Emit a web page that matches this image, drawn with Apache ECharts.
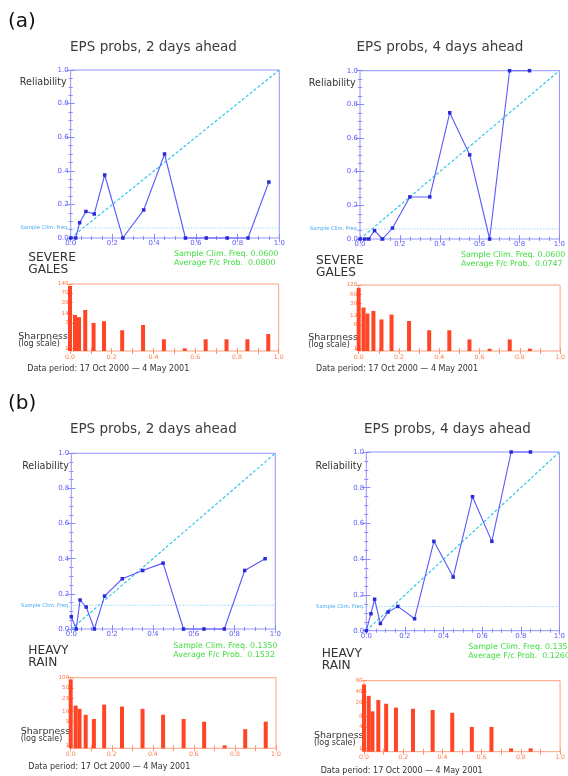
<!DOCTYPE html>
<html><head><meta charset="utf-8">
<script src="https://cdn.jsdelivr.net/npm/echarts@6/dist/echarts.min.js"></script>
<style>html,body{margin:0;padding:0;background:#fff;overflow:hidden}#c{width:568px;height:776px}</style>
</head><body><div id="c"></div>
<script>
// ---------- data ----------
const probBins = [0.0, 0.024, 0.043, 0.073, 0.113, 0.163, 0.25, 0.35, 0.45, 0.55, 0.65, 0.75, 0.85, 0.95];
const diagonal = [[0, 0], [1, 1]];

const galesDay2Reliability = [0, 0, 0.091, 0.158, 0.143, 0.375, 0, 0.167, 0.5, 0, 0, 0, 0, 0.333];
const galesDay2Counts      = [120, 13, 11, 19, 7, 8, 4, 6, 2, 1, 2, 2, 2, 3];
const galesDay4Reliability = [0, 0, 0, 0.05, 0, 0.065, 0.25, 0.25, 0.75, 0.5, 0, 1, 1];
const galesDay4Counts      = [97, 22, 14, 17, 9, 13, 8, 4, 4, 2, 1, 2, 1, 0];
const rainDay2Reliability  = [0.07, 0, 0.165, 0.125, 0, 0.1875, 0.286, 0.333, 0.375, 0, 0, 0, 0.333, 0.4];
const rainDay2Counts       = [89, 15, 12, 8, 6, 16, 14, 12, 8, 6, 5, 1, 3, 5];
const rainDay4Reliability  = [0, 0.095, 0.176, 0.04, 0.105, 0.136, 0.067, 0.5, 0.3, 0.75, 0.5, 1, 1];
const rainDay4Counts       = [63, 30, 11, 23, 18, 14, 13, 12, 10, 4, 4, 1, 1, 0];

const sharpTicksGalesDay2 = [1, 7, 14, 35, 70, 140];
const sharpTicksGalesDay4 = [1, 6, 12, 30, 60, 120];
const sharpTicksRainDay2  = [1, 5, 10, 25, 50, 100];
const sharpTicksRainDay4  = [1, 4, 8, 20, 40, 80];

const sampleClimFreq = ['0.0600', '0.0600', '0.1350', '0.1350'];
const averageFcProb  = ['0.0800', '0.0747', '0.1532', '0.1260'];
const panelTitles = ['EPS probs, 2 days ahead', 'EPS probs, 4 days ahead', 'EPS probs, 2 days ahead', 'EPS probs, 4 days ahead'];
const eventNames = [['SEVERE', 'GALES'], ['SEVERE', 'GALES'], ['HEAVY', 'RAIN'], ['HEAVY', 'RAIN']];
const dataPeriod = 'Data period: 17 Oct 2000 \u2014 4 May 2001';

// ---------- layout ----------
const panels = [
  { rel: {x0: 70.7, x1: 279.3, top: 70, bottom: 238},
    sh: {x0: 70, x1: 278.7, top: 284, bottom: 351, lo: 0.815, hi: 140},
    relY: galesDay2Reliability, counts: galesDay2Counts, ticks: sharpTicksGalesDay2,
    title: [153.5, 47], relLab: [66.7, 82.7], green: [174, 254.3], ev: [28.3, 258.3], shLab: [18.3, 336.7], dp: [27.3, 368.7] },
  { rel: {x0: 360, x1: 562.7, top: 70.7, bottom: 239},
    sh: {x0: 358.7, x1: 562.7, top: 285, bottom: 351, lo: 0.84, hi: 120},
    relY: galesDay4Reliability, counts: galesDay4Counts, ticks: sharpTicksGalesDay4,
    title: [440, 47], relLab: [355.7, 83.7], green: [461, 255], ev: [316, 260.7], shLab: [308.3, 337.3], dp: [316, 369] },
  { rel: {x0: 71.3, x1: 275.3, top: 453.3, bottom: 629},
    sh: {x0: 70.7, x1: 276, top: 677.7, bottom: 748.3, lo: 0.816, hi: 100},
    relY: rainDay2Reliability, counts: rainDay2Counts, ticks: sharpTicksRainDay2,
    title: [153.3, 429.3], relLab: [69, 466], green: [173.3, 645.7], ev: [28.3, 650.7], shLab: [20.7, 731.7], dp: [28.3, 766.7] },
  { rel: {x0: 366.3, x1: 570, top: 452, bottom: 630.7},
    sh: {x0: 364, x1: 568.1, top: 680.7, bottom: 751.7, lo: 0.806, hi: 80},
    relY: rainDay4Reliability, counts: rainDay4Counts, ticks: sharpTicksRainDay4,
    title: [447.5, 429], relLab: [362.3, 466.7], green: [468.3, 647.3], ev: [321.7, 654], shLab: [314, 735.3], dp: [320.7, 770.7] }
];

const FONT = '"DejaVu Sans", "Liberation Sans", sans-serif';
const relBox = '#9494ff', relTick = '#8a8aff', relLabel = '#5c5cff';
const shBox = '#ffa07f', shTick = '#ff9470', shLabel = '#ff7a4a';

const grids = [], xAxes = [], yAxes = [], series = [], graphics = [];

function txt(x, y, text, size, color, align, valign) {
  graphics.push({ type: 'text', x: x, y: y, silent: true,
    style: { text: text, font: size + 'px ' + FONT, fill: color,
      textAlign: align || 'left', align: align || 'left',
      textVerticalAlign: valign || 'middle', verticalAlign: valign || 'middle' } });
}

panels.forEach((p, i) => {
  const gR = 2 * i, gS = 2 * i + 1;
  const r = p.rel, s = p.sh;
  grids.push({ left: r.x0, top: r.top, width: r.x1 - r.x0, height: r.bottom - r.top,
    show: true, borderColor: relBox, borderWidth: 1, backgroundColor: 'transparent' });
  grids.push({ left: s.x0, top: s.top, width: s.x1 - s.x0, height: s.bottom - s.top,
    show: true, borderColor: shBox, borderWidth: 1, backgroundColor: 'transparent' });

  const relTickStyle = { inside: true, length: 4, lineStyle: { color: relTick, width: 1 } };
  const relMinor = { show: true, splitNumber: 4, length: 2, lineStyle: { color: relTick, width: 1 } };
  const fmt1 = v => v.toFixed(1);
  // reliability axes
  ['bottom', 'top'].forEach((pos, k) => xAxes.push({
    gridIndex: gR, type: 'value', min: 0, max: 1, interval: 0.2, position: pos,
    axisLine: { show: false }, splitLine: { show: false },
    axisTick: relTickStyle, minorTick: relMinor,
    axisLabel: { show: k === 0, color: relLabel, fontSize: 7, fontFamily: FONT, margin: 2, formatter: fmt1 }
  }));
  ['left', 'right'].forEach((pos, k) => yAxes.push({
    gridIndex: gR, type: 'value', min: 0, max: 1, interval: 0.2, position: pos,
    axisLine: { show: false }, splitLine: { show: false },
    axisTick: relTickStyle, minorTick: relMinor,
    axisLabel: { show: k === 0, color: relLabel, fontSize: 7, fontFamily: FONT, margin: 2, formatter: fmt1 }
  }));
  // sharpness axes
  const shTickStyle = { inside: true, length: 3, lineStyle: { color: shTick, width: 1 } };
  ['bottom', 'top'].forEach((pos, k) => xAxes.push({
    gridIndex: gS, type: 'value', min: 0, max: 1, interval: 0.2, position: pos,
    axisLine: { show: false }, splitLine: { show: false },
    axisTick: shTickStyle,
    minorTick: { show: true, splitNumber: 2, length: 3, lineStyle: { color: shTick, width: 1 } },
    axisLabel: { show: k === 0, color: shLabel, fontSize: 6.2, fontFamily: FONT, margin: 3, formatter: fmt1 }
  }));
  const lo = s.lo;
  const tickPos = p.ticks.map(t => Math.log10(t / lo));
  ['left', 'right'].forEach((pos, k) => yAxes.push({
    gridIndex: gS, type: 'value', min: 0, max: Math.log10(s.hi / lo), position: pos,
    axisLine: { show: false }, splitLine: { show: false },
    axisTick: Object.assign({ customValues: tickPos }, shTickStyle),
    axisLabel: { show: k === 0, customValues: tickPos, color: shLabel, fontSize: 5.6, fontFamily: FONT, margin: 1.5,
      formatter: v => String(Math.round(lo * Math.pow(10, v))) }
  }));

  const xR = 4 * i, xS = 4 * i + 2;
  const clim = parseFloat(sampleClimFreq[i]);
  series.push({ type: 'line', xAxisIndex: xR, yAxisIndex: xR, data: diagonal, symbol: 'none', silent: true,
    lineStyle: { color: '#30c6ec', width: 1.2, type: [3, 2] }, z: 2 });
  series.push({ type: 'line', xAxisIndex: xR, yAxisIndex: xR, data: [[0, clim], [1, clim]], symbol: 'none', silent: true,
    lineStyle: { color: '#9ad8ff', width: 1, type: [1.5, 1.5] }, z: 2 });
  series.push({ type: 'line', xAxisIndex: xR, yAxisIndex: xR, clip: false,
    data: p.relY.map((y, k) => [probBins[k], y]),
    symbol: 'rect', symbolSize: 3.5,
    lineStyle: { color: '#5858ff', width: 1.1 }, itemStyle: { color: '#2a2ad6' }, z: 3 });
  series.push({ type: 'bar', xAxisIndex: xS, yAxisIndex: xS, clip: false, barWidth: 4,
    data: p.counts.map((c, k) => [probBins[k], c > 0 ? Math.log10(c / lo) : null]).filter(d => d[1] !== null),
    itemStyle: { color: '#ff4526' } });

  // texts
  txt(p.title[0], p.title[1], panelTitles[i], 13.5, '#3c3c3c', 'center');
  txt(p.relLab[0], p.relLab[1], 'Reliability', 9.6, '#333', 'right');
  txt(r.x0 - 1.5, r.bottom - clim * (r.bottom - r.top), 'Sample Clim. Freq.', 5.2, '#3ea6f2', 'right');
  txt(p.green[0], p.green[1], 'Sample Clim. Freq. ' + sampleClimFreq[i], 7.9, '#40dc40', 'left');
  txt(p.green[0], p.green[1] + 9, 'Average F/c Prob.  ' + averageFcProb[i], 7.9, '#40dc40', 'left');
  txt(p.ev[0], p.ev[1], eventNames[i][0], 12.2, '#333', 'left');
  txt(p.ev[0], p.ev[1] + 12, eventNames[i][1], 12.2, '#333', 'left');
  txt(p.shLab[0], p.shLab[1], 'Sharpness', 9.5, '#333', 'left');
  txt(p.shLab[0], p.shLab[1] + 7.5, '(log scale)', 8, '#333', 'left');
  txt(p.dp[0], p.dp[1], dataPeriod, 8, '#333', 'left');
});
txt(8, 22, '(a)', 20, '#111', 'left');
txt(8, 404, '(b)', 20, '#111', 'left');

const chart = echarts.init(document.getElementById('c'), null, { renderer: 'canvas' });
chart.setOption({ animation: false, backgroundColor: '#fff', grid: grids, xAxis: xAxes, yAxis: yAxes, series: series, graphic: graphics });
</script></body></html>
